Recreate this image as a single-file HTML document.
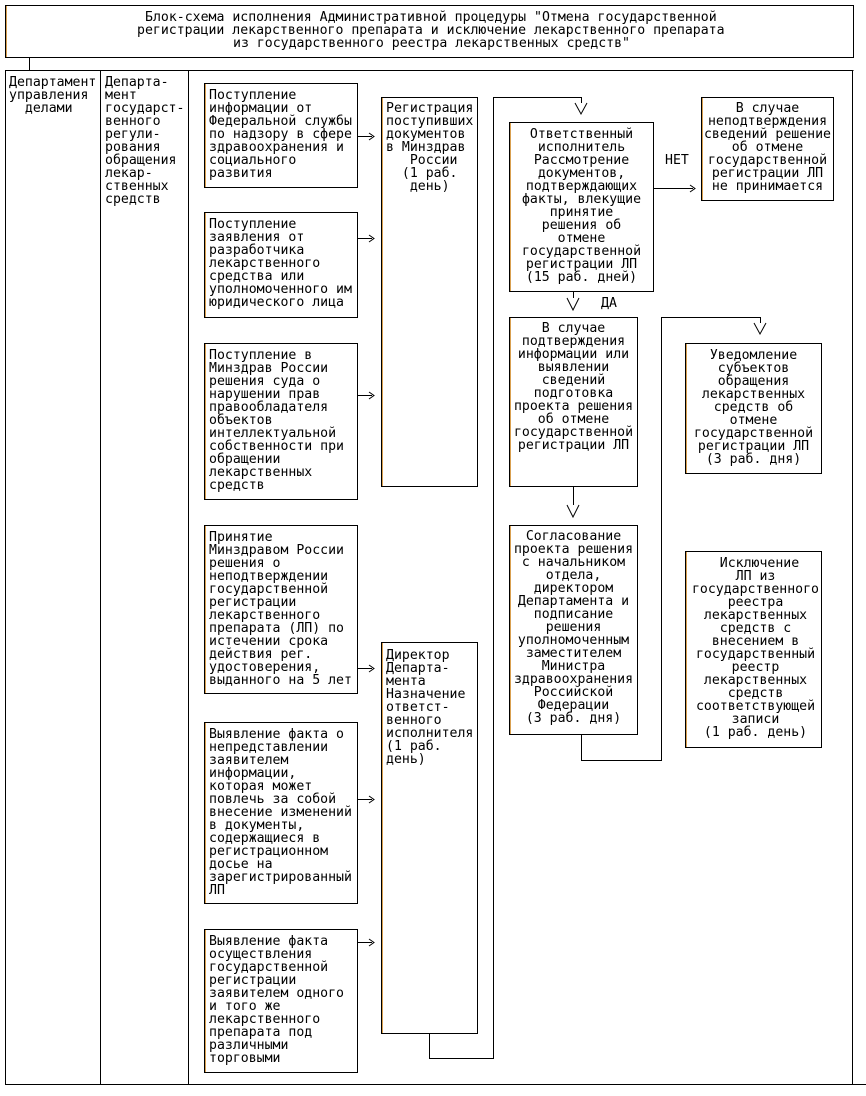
<!DOCTYPE html>
<html><head><meta charset="utf-8"><style>
body{margin:0;background:#fff;width:866px;height:1096px;position:relative;overflow:hidden}
.t{position:absolute;margin:0;font-family:"DejaVu Sans Mono","Liberation Mono",monospace;font-size:13.2px;line-height:13px;color:#000;white-space:pre}
.b{position:absolute;border:1px solid #000;box-sizing:border-box;box-shadow:inset 1px 0 0 #d9a050}
.c{text-align:center}
svg{position:absolute;left:0;top:0}
</style></head><body>
<div class="b" style="left:5px;top:5px;width:849px;height:53px"></div>
<div class="t" style="left:145px;top:11px">Блок-схема исполнения Административной процедуры "Отмена государственной</div>
<div class="t" style="left:137px;top:24px">регистрации лекарственного препарата и исключение лекарственного препарата</div>
<div class="t" style="left:233px;top:37px">из государственного реестра лекарственных средств"</div>

<svg width="866" height="1096">
<g stroke="#000" stroke-width="1" fill="none">
<line x1="29.5" y1="57" x2="29.5" y2="70"/>
<polyline points="5.5,1085 5.5,70.5 853.5,70.5"/>
<line x1="5" y1="1084.5" x2="866" y2="1084.5"/>
<line x1="100.5" y1="70" x2="100.5" y2="1085"/>
<line x1="188.5" y1="70" x2="188.5" y2="1085"/>
<line x1="852.5" y1="70" x2="852.5" y2="1085"/>
<line x1="357" y1="136.5" x2="372" y2="136.5"/><polyline points="369,133 374,136.5 369,140"/>
<line x1="357" y1="238.5" x2="372" y2="238.5"/><polyline points="369,235 374,238.5 369,242"/>
<line x1="357" y1="395.5" x2="372" y2="395.5"/><polyline points="369,392 374,395.5 369,399"/>
<line x1="357" y1="668.5" x2="372" y2="668.5"/><polyline points="369,665 374,668.5 369,672"/>
<line x1="357" y1="799.5" x2="372" y2="799.5"/><polyline points="369,796 374,799.5 369,803"/>
<line x1="357" y1="942.5" x2="372" y2="942.5"/><polyline points="369,939 374,942.5 369,946"/>
<line x1="653" y1="188.5" x2="693" y2="188.5"/><polyline points="690,185 695,188.5 690,192"/>
<polyline points="429.5,1033 429.5,1058.5 493.5,1058.5 493.5,97.5 581.5,97.5 581.5,103"/>
<polyline points="575,103 581,114 587,103"/>
<line x1="573.5" y1="291" x2="573.5" y2="298"/><polyline points="567,298 573,310 579,298"/>
<line x1="573.5" y1="486" x2="573.5" y2="505"/><polyline points="567,505 573,517 579,505"/>
<polyline points="581.5,734 581.5,760.5 661.5,760.5 661.5,317.5 760.5,317.5 760.5,323"/>
<polyline points="754,323 760,334 766,323"/>
</g></svg>

<div class="t" style="left:9px;top:76px">Департамент
управления
  делами</div>
<div class="t" style="left:105px;top:76px">Департа-
мент
государст-
венного
регули-
рования
обращения
лекар-
ственных
средств</div>

<div class="b" style="left:204px;top:83px;width:154px;height:105px"></div>
<div class="t" style="left:209px;top:89px">Поступление
информации от
Федеральной службы
по надзору в сфере
здравоохранения и
социального
развития</div>

<div class="b" style="left:204px;top:212px;width:154px;height:106px"></div>
<div class="t" style="left:209px;top:218px">Поступление
заявления от
разработчика
лекарственного
средства или
уполномоченного им
юридического лица</div>

<div class="b" style="left:204px;top:343px;width:154px;height:157px"></div>
<div class="t" style="left:209px;top:349px">Поступление в
Минздрав России
решения суда о
нарушении прав
правообладателя
объектов
интеллектуальной
собственности при
обращении
лекарственных
средств</div>

<div class="b" style="left:204px;top:525px;width:154px;height:169px"></div>
<div class="t" style="left:209px;top:531px">Принятие
Минздравом России
решения о
неподтверждении
государственной
регистрации
лекарственного
препарата (ЛП) по
истечении срока
действия рег.
удостоверения,
выданного на 5 лет</div>

<div class="b" style="left:204px;top:722px;width:154px;height:182px"></div>
<div class="t" style="left:209px;top:728px">Выявление факта о
непредставлении
заявителем
информации,
которая может
повлечь за собой
внесение изменений
в документы,
содержащиеся в
регистрационном
досье на
зарегистрированный
ЛП</div>

<div class="b" style="left:204px;top:929px;width:154px;height:144px"></div>
<div class="t" style="left:209px;top:935px">Выявление факта
осуществления
государственной
регистрации
заявителем одного
и того же
лекарственного
препарата под
различными
торговыми</div>

<div class="b" style="left:381px;top:97px;width:97px;height:390px"></div>
<div class="t" style="left:386px;top:102px">Регистрация
поступивших
документов
в Минздрав
   России
  (1 раб.
   день)</div>

<div class="b" style="left:381px;top:642px;width:97px;height:392px"></div>
<div class="t" style="left:386px;top:649px">Директор
Департа-
мента
Назначение
ответст-
венного
исполнителя
(1 раб.
день)</div>

<div class="b" style="left:509px;top:122px;width:145px;height:170px"></div>
<div class="t c" style="left:509px;top:128px;width:145px">Ответственный
исполнитель
Рассмотрение
документов,
подтверждающих
факты, влекущие
принятие
решения об
отмене
государственной
регистрации ЛП
(15 раб. дней)</div>
<div class="t" style="left:665px;top:154px">НЕТ</div>
<div class="t" style="left:601px;top:297px">ДА</div>

<div class="b" style="left:701px;top:97px;width:133px;height:104px"></div>
<div class="t c" style="left:701px;top:102px;width:133px">В случае
неподтверждения
сведений решение
об отмене
государственной
регистрации ЛП
не принимается</div>

<div class="b" style="left:509px;top:317px;width:129px;height:170px"></div>
<div class="t c" style="left:509px;top:322px;width:129px">В случае
подтверждения
информации или
выявлении
сведений
подготовка
проекта решения
об отмене
государственной
регистрации ЛП</div>

<div class="b" style="left:509px;top:525px;width:129px;height:210px"></div>
<div class="t c" style="left:509px;top:530px;width:129px">Согласование
проекта решения
с начальником
отдела,
директором
Департамента и
подписание
решения
уполномоченным
заместителем
Министра
здравоохранения
Российской
Федерации
(3 раб. дня)</div>

<div class="b" style="left:685px;top:343px;width:137px;height:131px"></div>
<div class="t c" style="left:685px;top:349px;width:137px">Уведомление
субъектов
обращения
лекарственных
средств об
отмене
государственной
регистрации ЛП
(3 раб. дня)</div>

<div class="b" style="left:685px;top:551px;width:137px;height:197px"></div>
<div class="t c" style="left:687px;top:557px;width:137px"> Исключение
ЛП из
государственного
реестра
лекарственных
средств с
внесением в
государственный
реестр
лекарственных
средств
соответствующей
записи
(1 раб. день)</div>
</body></html>
